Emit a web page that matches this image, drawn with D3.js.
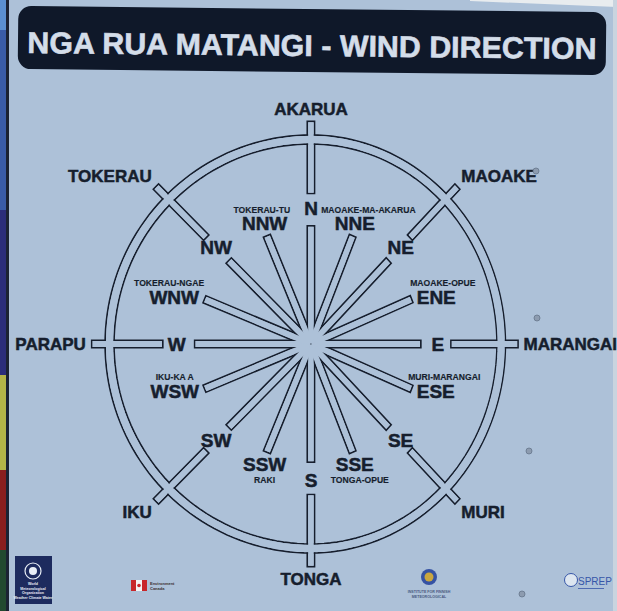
<!DOCTYPE html>
<meta charset="utf-8">
<script src="https://d3js.org/d3.v7.min.js"></script>
<style>
  body { margin: 0; background: #adc1d8; }
  text { font-family: "Liberation Sans", Arial, sans-serif; font-weight: bold; }
</style>
<div id="sign"></div>
<script>

// the 16 points of the compass, clockwise from north
const directions = ["N","NNE","NE","ENE","E","ESE","SE","SSE","S","SSW","SW","WSW","W","WNW","NW","NNW"]
const bearings = [0,22.5,45,67.5,90,112.5,135,157.5,180,202.5,225,247.5,270,292.5,315,337.5]
// Maori names written next to the secondary points
const localNames = ["","MAOAKE-MA-AKARUA","","MAOAKE-OPUE","","MURI-MARANGAI","","TONGA-OPUE",
                    "","RAKI","","IKU-KA A","","TOKERAU-NGAE","","TOKERAU-TU"]
// winds named at the end of the 8 main spokes (N, NE, E, SE, S, SW, W, NW)
const windNames = ["AKARUA","MAOAKE","MARANGAI","MURI","TONGA","IKU","PARAPU","TOKERAU"]
const title = "NGA RUA MATANGI - WIND DIRECTION"

const width = 617, height = 611
const bg = "#adc1d8", ink = "#161e2d"
const cx = 311, cy = 344
// the photo is taken a little from the left: the right half looks narrower
const leftK = 0.985, rightK = 0.93

const svg = d3.select("#sign").append("svg")
  .attr("width", width).attr("height", height)

svg.append("rect").attr("width", width).attr("height", height).attr("fill", bg)

// edge of the photo: coloured strip on the left, sky top right
const strip = [["#5b8fd0",0,30],["#3a5ca8",30,210],["#2b2d7a",210,375],["#b3b447",375,470],["#8a1e1e",470,550],["#22492f",550,611]]
svg.selectAll(".strip").data(strip).join("rect")
  .attr("x", 0).attr("width", 7).attr("y", d => d[1]).attr("height", d => d[2] - d[1]).attr("fill", d => d[0])
svg.append("rect").attr("x", 6).attr("width", 3).attr("height", height).attr("fill", "#1b2233")
svg.append("path").attr("d", "M470,0L617,0L617,7L470,1Z").attr("fill", "#e8ecef")
svg.append("rect").attr("x", 613).attr("width", 4).attr("height", height).attr("fill", "#c9d4df")

// title bar
const head = svg.append("g").attr("transform", "rotate(0.6 312 42)")
head.append("rect").attr("x", 18).attr("y", 9).attr("width", 588).attr("height", 63).attr("rx", 13).attr("fill", "#0f1829")
head.append("text").attr("x", 312).attr("y", 56).attr("text-anchor", "middle")
  .attr("font-size", 30).attr("fill", "#d4dde9").attr("stroke", "#d4dde9").attr("stroke-width", 0.6)
  .attr("textLength", 569).attr("lengthAdjust", "spacingAndGlyphs").text(title)

// polar scales, in the plane of the sign (u right, v up), then onto the photo
const angle = d3.scaleLinear().domain([0, 360]).range([0, 2 * Math.PI])
const radius = d3.scaleLinear().domain([0, 1]).range([0, 209])   // 1 = outer ring
const project = ([u, v]) => [cx + u * (u > 0 ? rightK : leftK), cy - v]
const plane = (deg, r, side = 0) => {
  const a = angle(deg), R = radius(r)
  return [R * Math.sin(a) + side * Math.cos(a), R * Math.cos(a) - side * Math.sin(a)]
}
const polar = (deg, r) => project(plane(deg, r))

const ringOuter = 1, ringInner = 0.957
const barW = 7.5, sw = 1.7
const mainIn = 0.565, mainLabel = 0.652, mainOut = 0.72, mainEnd = 1.065, minorEnd = 0.56

// spoke segments: [bearing, from, to]
const segments = []
bearings.forEach((b, i) => {
  if (i % 2 === 0) {
    segments.push([b, 0, mainIn])
    segments.push([b, mainOut, mainEnd])
  } else {
    segments.push([b, 0, minorEnd])
  }
})

const line = d3.line()
const ringPath = r => line(d3.range(0, 361, 2).map(a => polar(a, r))) + "Z"
const barPath = (d, inset) => {
  const hw = barW / 2 - inset, e = inset / radius(1)
  const r0 = d[1] + e, r1 = d[2] - e
  return line([plane(d[0], r0, -hw), plane(d[0], r1, -hw), plane(d[0], r1, hw), plane(d[0], r0, hw)].map(project)) + "Z"
}

const wheel = svg.append("g")
// outlines first, then the fills on top so that the shapes merge
wheel.append("g").selectAll("path").data([ringOuter, ringInner]).join("path")
  .attr("d", ringPath)
  .attr("fill", "none").attr("stroke", ink).attr("stroke-width", sw)
wheel.append("g").selectAll("path").data(segments).join("path")
  .attr("d", d => barPath(d, 0))
  .attr("fill", "none").attr("stroke", ink).attr("stroke-width", sw)

wheel.append("path")
  .attr("d", ringPath((ringOuter + ringInner) / 2))
  .attr("fill", "none").attr("stroke", bg)
  .attr("stroke-width", radius(ringOuter) - radius(ringInner) - sw)
wheel.append("g").selectAll("path").data(segments).join("path")
  .attr("d", d => barPath(d, sw / 2))
  .attr("fill", bg)

// label placement: put the label box just beyond the point, on the side the spoke points to
function placeBox(px, py, deg, w, h) {
  const ux = Math.sin(angle(deg)), uy = -Math.cos(angle(deg))
  const hx = Math.abs(ux) < 0.5 ? 0 : Math.sign(ux)
  const vy = Math.abs(uy) < 0.5 ? 0 : Math.sign(uy)
  return [px + hx * w / 2, py + vy * h / 2]
}

const labels = svg.append("g").attr("fill", ink).attr("stroke", ink)

function addLabel(txt, size) {
  const t = labels.append("text").attr("text-anchor", "middle").attr("font-size", size)
    .attr("stroke-width", size > 12 ? 0.5 : 0.15).text(txt)
  const w = t.node().getComputedTextLength()
  return { t, w, cap: size * 0.72 }
}

const gap = 6 / 209
bearings.forEach((b, i) => {
  if (i % 2 === 0) {
    // main point sits in the gap of its spoke
    const [x, y] = polar(b, mainLabel)
    const l = addLabel(directions[i], 19)
    l.t.attr("x", x).attr("y", y + l.cap / 2)
    // wind name beyond the spoke end
    const [px, py] = polar(b, mainEnd + gap)
    const o = addLabel(windNames[i / 2], 17)
    const [ox, oy] = placeBox(px, py, b, o.w, o.cap)
    o.t.attr("x", ox).attr("y", oy + o.cap / 2)
  } else {
    const [px, py] = polar(b, minorEnd + gap)
    const l = addLabel(directions[i], 19)
    const [lx, ly] = placeBox(px, py, b, l.w, l.cap)
    l.t.attr("x", lx).attr("y", ly + l.cap / 2)
    // local name stacked on the far side, nudged away from the neighbouring spoke
    const s = addLabel(localNames[i], 8.6)
    const ux = Math.sin(angle(b))
    const below = -Math.cos(angle(b)) > 0.7
    const shift = Math.sign(ux) * Math.max(0, s.w - l.w) / 4
    s.t.attr("x", lx + shift).attr("y", below ? ly + l.cap / 2 + 5.5 + s.cap : ly - l.cap / 2 - 4)
  }
})

// sponsor logos along the bottom
const logos = svg.append("g")
logos.append("rect").attr("x", 15).attr("y", 556).attr("width", 37).attr("height", 48).attr("fill", "#1d2b5e")
logos.append("circle").attr("cx", 33).attr("cy", 571).attr("r", 8).attr("fill", "none").attr("stroke", "#e8eef6").attr("stroke-width", 1.2)
logos.append("circle").attr("cx", 33).attr("cy", 571).attr("r", 4).attr("fill", "#e8eef6")
logos.selectAll(".wmo").data(["World", "Meteorological", "Organization", "Weather Climate Water"]).join("text")
  .attr("x", 33).attr("y", (d, i) => 585 + i * 4.5).attr("text-anchor", "middle")
  .attr("font-size", 3.6).attr("fill", "#e8eef6").text(d => d)

logos.append("rect").attr("x", 131).attr("y", 580).attr("width", 16).attr("height", 11).attr("fill", "#c8262a")
logos.append("rect").attr("x", 136).attr("y", 580).attr("width", 6).attr("height", 11).attr("fill", "#f3f3f3")
logos.append("circle").attr("cx", 139).attr("cy", 585.5).attr("r", 1.8).attr("fill", "#c8262a")
logos.selectAll(".can").data(["Environment", "Canada"]).join("text")
  .attr("x", 150).attr("y", (d, i) => 585 + i * 4.5).attr("font-size", 4).attr("fill", "#3a3030").text(d => d)

logos.append("circle").attr("cx", 429).attr("cy", 577).attr("r", 8).attr("fill", "#3552a3")
logos.append("circle").attr("cx", 429).attr("cy", 577).attr("r", 4.5).attr("fill", "#c9a640")
logos.selectAll(".fmi").data(["INSTITUTE FOR FINNISH", "METEOROLOGICAL"]).join("text")
  .attr("x", 429).attr("y", (d, i) => 593 + i * 4.5).attr("text-anchor", "middle")
  .attr("font-size", 3.6).attr("fill", "#4a5a80").text(d => d)

logos.append("circle").attr("cx", 571).attr("cy", 580).attr("r", 6.5).attr("fill", "#dde6f0").attr("stroke", "#3656a8").attr("stroke-width", 1)
logos.append("text").attr("x", 578).attr("y", 585).attr("font-size", 10).attr("fill", "#3656a8")
  .style("font-weight", "normal").text("SPREP")
logos.append("line").attr("x1", 578).attr("x2", 604).attr("y1", 588.5).attr("y2", 588.5).attr("stroke", "#3656a8").attr("stroke-width", 0.8)

// screws
svg.selectAll(".screw").data([[536, 171], [537, 318], [529, 451], [522, 594]]).join("circle")
  .attr("cx", d => d[0]).attr("cy", d => d[1]).attr("r", 3)
  .attr("fill", "#8d9cb0").attr("stroke", "#66768c").attr("stroke-width", 0.8)

</script>
